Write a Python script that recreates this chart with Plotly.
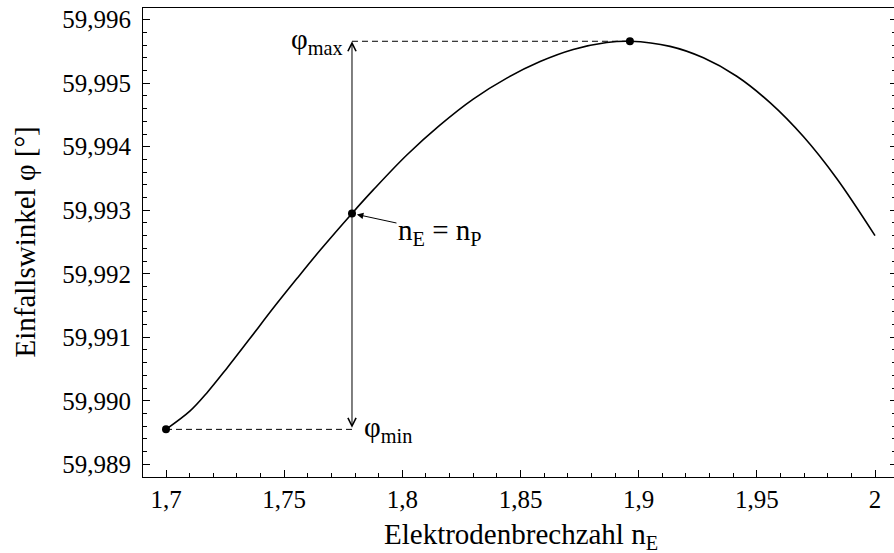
import plotly.graph_objects as go

# Curve data
n_e = [1.7000, 1.7102, 1.7172, 1.7257, 1.7355, 1.7454, 1.7553, 1.7652, 1.7787,
       1.7877, 1.8019, 1.8159, 1.8300, 1.8442, 1.8583, 1.8723, 1.8865, 1.8963,
       1.9133, 1.9274, 1.9415, 1.9557, 1.9697, 1.9838, 2.0000]
phi = [59.98955, 59.98984, 59.99012, 59.99051, 59.99098, 59.99146, 59.99192,
       59.99237, 59.99295, 59.99332, 59.99387, 59.99434, 59.99475, 59.99508,
       59.99534, 59.99553, 59.99564, 59.99566, 59.99558, 59.99540, 59.99511,
       59.99469, 59.99416, 59.99350, 59.99260]

# Special points: phi_min (start), n_E = n_P, phi_max
pt_x = [1.7000, 1.7787, 1.8963]
pt_y = [59.98955, 59.99295, 59.99566]

x_range = [1.69027, 2.00804]
y_range = [59.9888, 59.996184]

FONT = "Liberation Serif, serif"
FS = 25
FT = 29

fig = go.Figure()
fig.add_trace(go.Scatter(x=n_e, y=phi, mode="lines",
                         line=dict(color="black", width=1.6, shape="spline", smoothing=1.0),
                         hoverinfo="skip", showlegend=False))
# dashed helper lines
fig.add_trace(go.Scatter(x=[pt_x[0], pt_x[1]], y=[pt_y[0], pt_y[0]], mode="lines",
                         line=dict(color="black", width=1, dash="6px,4px"), showlegend=False))
fig.add_trace(go.Scatter(x=[pt_x[1], pt_x[2]], y=[pt_y[2], pt_y[2]], mode="lines",
                         line=dict(color="black", width=1, dash="6px,4px"), showlegend=False))
fig.add_trace(go.Scatter(x=pt_x, y=pt_y, mode="markers",
                         marker=dict(color="black", size=8), showlegend=False))
# invisible trace for right axis
fig.add_trace(go.Scatter(x=[pt_x[0]], y=[pt_y[0]], yaxis="y2", mode="markers",
                         marker=dict(opacity=0), showlegend=False, hoverinfo="skip"))

# double arrow between phi_min and phi_max
fig.add_annotation(x=pt_x[1], y=pt_y[2], ax=pt_x[1], ay=pt_y[0], xref="x", yref="y",
                   axref="x", ayref="y", text="", showarrow=True, arrowhead=5,
                   startarrowhead=5, arrowside="end+start", arrowwidth=1,
                   arrowsize=1.6, startarrowsize=1.6, arrowcolor="black", standoff=0, startstandoff=0)
fig.add_annotation(x=pt_x[1], y=pt_y[2], xref="x", yref="y", text="φ<sub>max</sub>",
                   showarrow=False, xanchor="right", yanchor="middle", xshift=-7, yshift=0,
                   font=dict(family=FONT, size=FT, color="black"))
fig.add_annotation(x=pt_x[1], y=pt_y[0], xref="x", yref="y", text="φ<sub>min</sub>",
                   showarrow=False, xanchor="left", yanchor="middle", xshift=10, yshift=0,
                   font=dict(family=FONT, size=FT, color="black"))
fig.add_annotation(x=pt_x[1], y=pt_y[1], xref="x", yref="y",
                   text="n<sub>E</sub> = n<sub>P</sub>", showarrow=True,
                   arrowhead=2, arrowsize=1.3, arrowwidth=1, arrowcolor="black",
                   ax=88, ay=19, standoff=5,
                   font=dict(family=FONT, size=FT, color="black"))

# axis titles
fig.add_annotation(x=(24 - 143) / 751, y=0.5, xref="paper", yref="paper",
                   text="Einfallswinkel φ [°]", textangle=-90, showarrow=False,
                   xanchor="center", yanchor="middle",
                   font=dict(family=FONT, size=FT, color="black"))
fig.add_annotation(x=(521 - 143) / 751, y=(477 - 536) / 469, xref="paper", yref="paper",
                   text="Elektrodenbrechzahl n<sub>E</sub>", showarrow=False,
                   xanchor="center", yanchor="middle",
                   font=dict(family=FONT, size=FT, color="black"))

fig.update_layout(
    width=894, height=553,
    margin=dict(l=143, r=0, t=8, b=76),
    paper_bgcolor="white", plot_bgcolor="white",
    separators=",.",
    font=dict(family=FONT, size=FS, color="black"),
    xaxis=dict(range=x_range, tick0=1.7, dtick=0.05, ticks="inside", ticklen=7,
               tickcolor="black", showline=True, linecolor="black", linewidth=1,
               mirror=True, showgrid=False, zeroline=False,
               minor=dict(dtick=0.01, tick0=1.7, ticks="inside", ticklen=4, tickcolor="black"),
               tickfont=dict(family=FONT, size=FS)),
    yaxis=dict(range=y_range, tick0=59.989, dtick=0.001, tickformat=".3f",
               ticks="inside", ticklen=7, tickcolor="black", showline=True,
               linecolor="black", linewidth=1, showgrid=False, zeroline=False,
               ticklabelstandoff=6,
               minor=dict(dtick=0.0002, ticks="inside", ticklen=4, tickcolor="black"),
               tickfont=dict(family=FONT, size=FS)),
    yaxis2=dict(range=y_range, overlaying="y", side="right", tick0=59.989, dtick=0.001,
                ticks="inside", ticklen=4, tickcolor="black", showline=False,
                showticklabels=False, showgrid=False, zeroline=False,
                minor=dict(dtick=0.0002, ticks="inside", ticklen=2, tickcolor="black")),
)

fig.write_html("out.html", config={"displayModeBar": False},
               post_script="document.body.style.margin='0';")
